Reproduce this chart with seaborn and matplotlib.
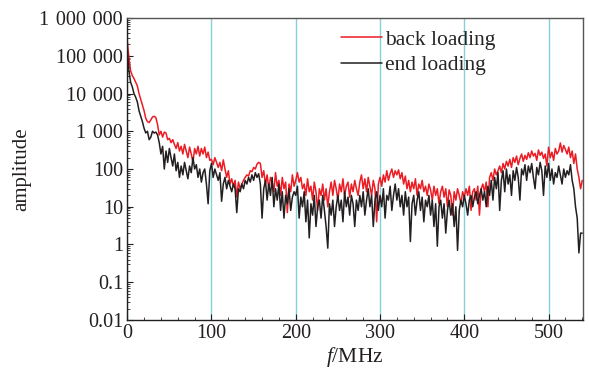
import numpy as np
import pandas as pd
import matplotlib
matplotlib.use("Agg")
import matplotlib.pyplot as plt
import matplotlib.ticker as mticker
import seaborn as sns

freq_mhz = list(range(0, 541, 2))

back_loading = [
    250000, 90000, 40000, 30000, 25000, 20000, 16000, 10000, 7000, 5000,
    3500, 2200, 1800, 1700, 2000, 2400, 2500, 2300, 1500, 800,
    1000, 700, 950, 900, 600, 650, 500, 600, 450, 350,
    500, 300, 400, 250, 450, 300, 200, 380, 250, 150,
    350, 250, 400, 220, 350, 250, 380, 200, 280, 170,
    180, 130, 200, 150, 110, 150, 90, 175, 100, 60,
    90, 40, 55, 35, 50, 18, 45, 30, 40, 50,
    60, 70, 65, 90, 85, 110, 100, 135, 150, 140,
    60, 90, 40, 70, 30, 60, 45, 25, 80, 35,
    50, 20, 60, 30, 45, 7, 40, 25, 70, 35,
    50, 80, 45, 60, 30, 40, 20, 55, 25, 35,
    15, 45, 25, 8, 30, 20, 40, 15, 30, 10,
    25, 45, 20, 50, 30, 15, 40, 25, 55, 20,
    35, 45, 18, 40, 25, 50, 30, 20, 45, 70,
    30, 55, 25, 60, 35, 20, 50, 30, 4, 40,
    60, 35, 70, 45, 90, 50, 75, 100, 60, 90,
    70, 95, 55, 80, 40, 65, 30, 50, 25, 45,
    30, 55, 20, 40, 30, 50, 25, 35, 20, 40,
    28, 15, 35, 20, 30, 12, 25, 35, 18, 30,
    10, 28, 20, 6, 25, 15, 30, 20, 12, 25,
    18, 30, 20, 35, 8, 25, 30, 15, 35, 6,
    30, 40, 25, 45, 10, 60, 80, 50, 100, 70,
    90, 120, 80, 140, 100, 160, 120, 180, 110, 200,
    150, 220, 130, 190, 250, 160, 230, 180, 270, 200,
    300, 220, 260, 170, 320, 230, 280, 190, 250, 120,
    380, 200, 280, 170, 350, 250, 300, 490, 280, 420,
    330, 250, 380, 200, 300, 140, 250, 100, 60, 30,
    50,
]

end_loading = [
    150000, 40000, 20000, 15000, 10000, 8000, 6000, 3500, 2500, 1800,
    1200, 900, 1000, 600, 700, 1000, 900, 950, 800, 500,
    250, 400, 100, 300, 150, 350, 200, 120, 250, 90,
    150, 60, 120, 70, 150, 90, 55, 120, 80, 200,
    100, 130, 60, 100, 45, 80, 100, 40, 12, 90,
    140, 60, 100, 70, 50, 80, 14, 40, 60, 30,
    50, 35, 25, 40, 30, 7, 30, 25, 40, 30,
    50, 40, 60, 45, 70, 50, 80, 60, 75, 40,
    5, 30, 50, 15, 40, 20, 60, 10, 30, 15,
    40, 8, 25, 5, 20, 12, 30, 8, 18, 25,
    20, 35, 5, 18, 10, 25, 4, 15, 1.5, 12,
    6, 20, 3, 10, 15, 5, 20, 8, 3, 0.8,
    12, 6, 15, 3, 10, 20, 8, 15, 4, 25,
    10, 18, 6, 20, 12, 3, 15, 8, 20, 10,
    25, 6, 15, 30, 10, 20, 3, 15, 25, 8,
    20, 10, 30, 5, 20, 15, 35, 8, 20, 40,
    15, 30, 10, 20, 6, 25, 10, 18, 1.2, 12,
    20, 6, 15, 25, 8, 18, 4, 15, 10, 20,
    6, 15, 3, 12, 0.9, 10, 15, 5, 12, 2,
    8, 15, 6, 12, 3, 10, 0.7, 8, 15, 10,
    20, 12, 6, 15, 20, 10, 18, 25, 12, 20,
    30, 15, 25, 10, 35, 20, 50, 15, 60, 30,
    80, 8, 50, 90, 25, 100, 40, 70, 20, 90,
    50, 110, 60, 15, 100, 70, 130, 50, 120, 80,
    140, 60, 30, 110, 70, 150, 90, 20, 120, 60,
    140, 50, 100, 40, 80, 60, 120, 70, 40, 100,
    60, 90, 70, 130, 50, 30, 10, 5, 0.6, 2,
    2,
]

series_names = ["back loading", "end loading"]
series_colors = ["#ec1c24", "#231f20"]
y_tick_values = [0.01, 0.1, 1, 10, 100, 1000, 10000, 100000, 1000000]
y_tick_labels = ["0.01", "0.1", "1", "10", "100", "1\u2004000", "10\u2004000",
                 "100\u2004000", "1\u2004000\u2004000"]
x_tick_values = [0, 100, 200, 300, 400, 500]

df = pd.concat([
    pd.DataFrame({"f": freq_mhz, "amplitude": back_loading, "series": series_names[0]}),
    pd.DataFrame({"f": freq_mhz, "amplitude": end_loading, "series": series_names[1]}),
], ignore_index=True)

sns.set_theme(style="ticks")
plt.rcParams["font.family"] = ["Liberation Serif", "DejaVu Serif"]
plt.rcParams["mathtext.fontset"] = "custom"
plt.rcParams["mathtext.rm"] = "Liberation Serif"
plt.rcParams["mathtext.it"] = "Liberation Serif:italic"

fig = plt.figure(figsize=(5.89, 3.76), dpi=100)
ax = fig.add_axes([0.216, 0.149, 0.774, 0.803])

sns.lineplot(data=df, x="f", y="amplitude", hue="series", hue_order=series_names,
             palette=series_colors, ax=ax, linewidth=1.1, legend=True)

ax.set_yscale("log")
ax.set_ylim(0.01, 1e6)
ax.set_xlim(0, 541)
ax.set_yticks(y_tick_values)
ax.yaxis.set_major_formatter(mticker.FixedFormatter(y_tick_labels))
ax.yaxis.set_minor_locator(mticker.LogLocator(base=10, subs=np.arange(2, 10), numticks=20))
ax.yaxis.set_minor_formatter(mticker.NullFormatter())
ax.set_xticks(x_tick_values)
ax.xaxis.set_minor_locator(mticker.MultipleLocator(20))

ax.xaxis.grid(True, which="major", color="#86d0da", linewidth=1.0)
ax.set_axisbelow(True)

ax.tick_params(axis="both", which="major", direction="in", length=4, width=0.8,
               labelsize=14.5, colors="#231f20", pad=3)
ax.tick_params(axis="both", which="minor", direction="in", length=2, width=0.6)
for side in ["top", "right", "left", "bottom"]:
    ax.spines[side].set_visible(True)
    ax.spines[side].set_color("#231f20")
    ax.spines[side].set_linewidth(1.0)
ax.spines["top"].set_color("#555555")
ax.spines["right"].set_color("#555555")

ax.set_xlabel(r"$\mathit{f}$/MHz", fontsize=15.5, color="#231f20", labelpad=1)
ax.set_ylabel("amplitude", fontsize=15, color="#231f20", labelpad=6)

leg = ax.legend(loc="upper left", bbox_to_anchor=(0.45, 0.99), frameon=False,
                fontsize=15.5, handlelength=1.9, handletextpad=0.15, labelspacing=0.25,
                borderaxespad=0.0)
for line in leg.get_lines():
    line.set_linewidth(1.1)

fig.savefig("out.png", dpi=100)
